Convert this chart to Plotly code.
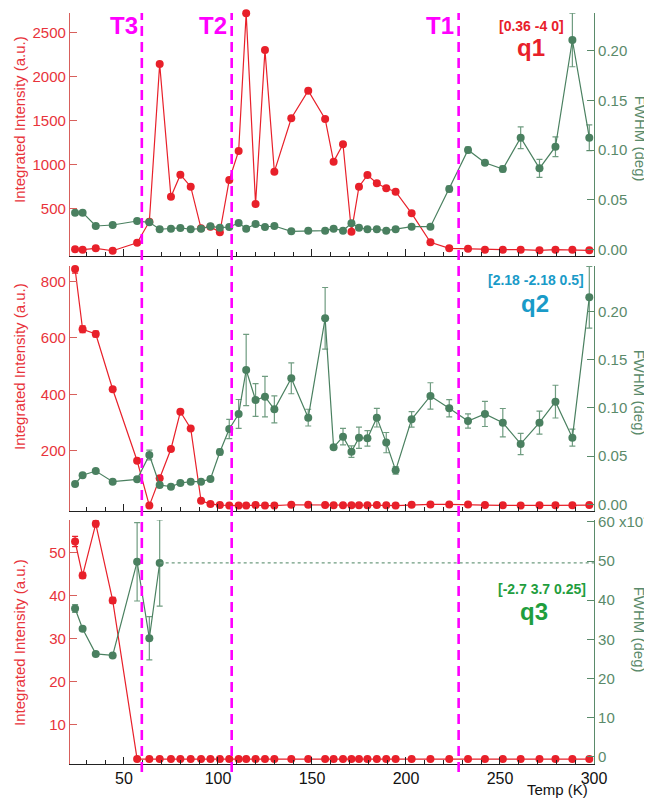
import plotly.graph_objects as go

# ---------------- data ----------------
temps = [24, 28, 35, 44, 57, 63.5, 69, 75, 80, 85.5, 91, 96, 101, 106, 111, 115, 120, 125, 130,
         139, 148, 157, 161.5, 166.5, 171, 175, 179.5, 184.5, 189.5, 194.5, 203, 213, 223, 233,
         242, 251.5, 261, 271, 279.5, 288.5, 297.5]

q1_int = [34, 30, 45, 18, 109, 348, 2140, 632, 882, 745, 273, 291, 227, 822, 1151, 2716, 549, 2299,
          916, 1523, 1836, 1515, 1030, 1227, 234, 746, 878, 784, 727, 689, 443, 114, 45, 40, 30, 30,
          30, 22, 30, 30, 22]
q1_fwhm = [0.0369, 0.0369, 0.0235, 0.0245, 0.0285, 0.0272, 0.0202, 0.0208, 0.0215, 0.0202, 0.0208,
           0.0232, 0.0218, 0.0225, 0.0265, 0.0208, 0.0255, 0.0225, 0.0235, 0.0181, 0.0188, 0.0188,
           0.0208, 0.0188, 0.0262, 0.0218, 0.0202, 0.0202, 0.0188, 0.0202, 0.0228, 0.0228, 0.0608,
           0.1001, 0.0873, 0.0809, 0.1125, 0.0816, 0.1034, 0.2110, 0.1125]
q1_fwhm_err = [0.001] * 32 + [0.003, 0.003, 0.002, 0.003, 0.011, 0.009, 0.010, 0.027, 0.013]

q2_int = [845, 631, 614, 418, 164, 5, 102, 206, 338, 279, 22, 11, 7, 5, 5, 5, 7, 5, 5, 8, 8, 7,
          6, 6, 6, 6, 6, 7, 6, 5, 8, 9, 9, 9, 7, 6, 5, 6, 6, 6, 7]
q2_int_err = [15, 12, 10, 3] + [1] * 37
q2_fwhm = [0.0211, 0.0301, 0.0345, 0.0235, 0.0259, 0.0511, 0.0200, 0.0183, 0.0221, 0.0235, 0.0235,
           0.0262, 0.0543, 0.0781, 0.0937, 0.1393, 0.1082, 0.1116, 0.0985, 0.1307, 0.0899, 0.1929,
           0.0591, 0.0702, 0.0546, 0.0691, 0.0684, 0.0899, 0.0640, 0.0352, 0.0881, 0.1124, 0.0996,
           0.0864, 0.0937, 0.0847, 0.0626, 0.0847, 0.1065, 0.0691, 0.2147]
q2_fwhm_err = [0.001, 0.001, 0.001, 0.001, 0.001, 0.005, 0.001, 0.001, 0.001, 0.001, 0.001, 0.001,
               0.003, 0.010, 0.015, 0.037, 0.017, 0.021, 0.014, 0.016, 0.0087, 0.032, 0.002, 0.0086,
               0.006, 0.011, 0.008, 0.0097, 0.0105, 0.004, 0.008, 0.0137, 0.009, 0.0073, 0.013,
               0.0147, 0.011, 0.012, 0.017, 0.0088, 0.032]

q3_int = [52.6, 44.7, 56.7, 38.9] + [2.0] * 37
q3_int_err = [1.2, 0.7, 0.7, 0.7] + [0.2] * 37
q3_temps_fwhm = [24, 28, 35, 44, 57, 63.5, 69]
q3_fwhm = [37.9, 32.7, 26.3, 25.9, 49.8, 30.3, 49.5]          # x10^-3 deg
q3_fwhm_err = [1.0, 0.5, 0.3, 0.3, 10.0, 5.5, 11.0]

transitions = [59.5, 107.3, 228.0]
transition_labels = ["T3", "T2", "T1"]

# ---------------- styles ----------------
RED = "#e8202a"
RED_AX = "#d8605c"
RED_TXT = "#e8333b"
GREEN = "#4a8060"
GREEN_ERR = "#6f9c80"
GREEN_AX = "#5a8a6a"
MAGENTA = "#ff00ff"
FONT = "Liberation Sans, Arial, sans-serif"

# page body has an 8px margin, so the figure is drawn offset by 8px
OFF = 8
W, H = 652 - OFF, 800 - OFF
L_SCR, R_SCR, T_SCR, B_SCR = 70, 593.7, 13, 764     # plot area in screen pixels
ML, MR, MT, MB = L_SCR - OFF, W - (R_SCR - OFF), T_SCR - OFF, H - (B_SCR - OFF)
PH = B_SCR - T_SCR
PW = R_SCR - L_SCR
XR = [21.3, 300]


def py2paper(py):
    return (B_SCR - py) / PH


def px2paper(px):
    return (px - L_SCR) / PW


def px2data(px):
    return XR[0] + (px - L_SCR) / PW * (XR[1] - XR[0])


fig = go.Figure()

panels = [
    dict(x="x", yl="y", yr="y2", ints=q1_int, ierr=None, fx=temps, fw=q1_fwhm, ferr=q1_fwhm_err),
    dict(x="x2", yl="y3", yr="y4", ints=q2_int, ierr=q2_int_err, fx=temps, fw=q2_fwhm, ferr=q2_fwhm_err),
    dict(x="x3", yl="y5", yr="y6", ints=q3_int, ierr=q3_int_err, fx=q3_temps_fwhm, fw=q3_fwhm, ferr=q3_fwhm_err),
]

for p in panels:
    fig.add_trace(go.Scatter(
        x=p["fx"], y=p["fw"], xaxis=p["x"], yaxis=p["yr"], mode="lines+markers",
        line=dict(color=GREEN, width=1.2), marker=dict(color=GREEN, size=8),
        error_y=dict(type="data", array=p["ferr"], color=GREEN_ERR, thickness=1.2, width=3),
        cliponaxis=False, showlegend=False))
    ey = dict(type="data", array=p["ierr"], color=RED, thickness=1.2, width=3) if p["ierr"] else None
    fig.add_trace(go.Scatter(
        x=temps, y=p["ints"], xaxis=p["x"], yaxis=p["yl"], mode="lines+markers",
        line=dict(color=RED, width=1.2), marker=dict(color=RED, size=8),
        error_y=ey, cliponaxis=False, showlegend=False))

# dotted continuation of last q3 FWHM value
fig.add_trace(go.Scatter(
    x=[q3_temps_fwhm[-1], XR[1]], y=[q3_fwhm[-1], q3_fwhm[-1]], xaxis="x3", yaxis="y6",
    mode="lines", line=dict(color=GREEN_ERR, width=1.2, dash="dot"), showlegend=False, hoverinfo="skip"))

doms = [
    [py2paper(256), py2paper(13)],
    [py2paper(511), py2paper(266)],
    [py2paper(764), py2paper(520)],
]

xcommon = dict(range=XR, showline=True, linecolor="#222", linewidth=1.2, ticks="inside",
               tick0=0, dtick=50, ticklen=7, tickcolor="#222", showgrid=False, zeroline=False,
               automargin=False,
               minor=dict(dtick=10, ticks="inside", ticklen=4, tickcolor="#222"),
               tickfont=dict(family=FONT, size=16, color="#111"))

lcommon = dict(showline=True, linecolor=RED_AX, linewidth=1.2, ticks="inside", ticklen=7,
               tickcolor=RED_AX, showgrid=False, zeroline=False, automargin=False,
               tickfont=dict(family=FONT, size=15, color=RED_TXT))
rcommon = dict(showline=True, linecolor=GREEN_AX, linewidth=1.2, ticks="inside", ticklen=7,
               tickcolor=GREEN_AX, showgrid=False, zeroline=False, side="right", automargin=False,
               tickfont=dict(family=FONT, size=15, color=GREEN_AX))

layout = dict(
    width=W, height=H, margin=dict(l=ML, r=MR, t=MT, b=MB, autoexpand=False),
    paper_bgcolor="white", plot_bgcolor="white", showlegend=False,
    xaxis=dict(xcommon, domain=[0, 1], anchor="y", showticklabels=False),
    xaxis2=dict(xcommon, domain=[0, 1], anchor="y3", showticklabels=False),
    xaxis3=dict(xcommon, domain=[0, 1], anchor="y5", showticklabels=True),
    yaxis=dict(lcommon, domain=doms[0], anchor="x", range=[-42, 2719],
               tickvals=[500, 1000, 1500, 2000, 2500]),
    yaxis2=dict(rcommon, domain=doms[0], anchor="x", overlaying="y", range=[-0.00675, 0.2382],
                tickvals=[0, 0.05, 0.10, 0.15, 0.20], tickformat=".2f"),
    yaxis3=dict(lcommon, domain=doms[1], anchor="x2", range=[-14.2, 855.5],
                tickvals=[200, 400, 600, 800]),
    yaxis4=dict(rcommon, domain=doms[1], anchor="x2", overlaying="y3", range=[-0.00695, 0.2472],
                tickvals=[0, 0.05, 0.10, 0.15, 0.20], tickformat=".2f"),
    yaxis5=dict(lcommon, domain=doms[2], anchor="x3", range=[0.86, 57.6],
                tickvals=[10, 20, 30, 40, 50]),
    yaxis6=dict(rcommon, domain=doms[2], anchor="x3", overlaying="y5", range=[-1.79, 60.46],
                tickvals=[0, 10, 20, 30, 40, 50, 60],
                ticktext=["0", "10", "20", "30", "40", "50", "60 x10⁻³"]),
)
fig.update_layout(**layout)

shapes = []
for t in transitions:
    shapes.append(dict(type="line", xref="x", yref="paper", x0=t, x1=t,
                       y0=py2paper(772), y1=py2paper(13),
                       line=dict(color=MAGENTA, width=2.6, dash="10px,6px"), layer="above"))
fig.update_layout(shapes=shapes)

ann = []
for t, lab in zip(transitions, transition_labels):
    ann.append(dict(x=t - 1.2, y=py2paper(25), xref="x", yref="paper", text=f"<b>{lab}</b>",
                    showarrow=False, xanchor="right", yanchor="middle",
                    font=dict(family=FONT, size=24, color=MAGENTA)))

labels = [
    ("[0.36 -4 0]", "q1", RED, 531, 26, 531, 47),
    ("[2.18 -2.18 0.5]", "q2", "#1a9bc8", 536, 280, 535, 303),
    ("[-2.7 3.7 0.25]", "q3", "#1f9e3e", 542, 589, 534, 611),
]
for vec, q, col, bx, by, qx, qy in labels:
    ann.append(dict(x=px2data(bx), y=py2paper(by), xref="x", yref="paper", text=f"<b>{vec}</b>",
                    showarrow=False, xanchor="center", yanchor="middle",
                    font=dict(family=FONT, size=14, color=col)))
    ann.append(dict(x=px2data(qx), y=py2paper(qy), xref="x", yref="paper", text=f"<b>{q}</b>",
                    showarrow=False, xanchor="center", yanchor="middle",
                    font=dict(family=FONT, size=24, color=col)))

for cy in [119, 366, 642]:
    ann.append(dict(x=px2paper(19), y=py2paper(cy), xref="paper", yref="paper",
                    text="Integrated Intensity (a.u.)", textangle=-90, showarrow=False,
                    xanchor="center", yanchor="middle",
                    font=dict(family=FONT, size=15, color=RED_TXT)))
for cy in [139, 393, 630]:
    ann.append(dict(x=px2paper(640), y=py2paper(cy), xref="paper", yref="paper",
                    text="FWHM (deg)", textangle=90, showarrow=False,
                    xanchor="center", yanchor="middle",
                    font=dict(family=FONT, size=15, color=GREEN_AX)))

ann.append(dict(x=px2paper(590), y=py2paper(789), xref="paper", yref="paper", text="Temp (K)",
                showarrow=False, xanchor="right", yanchor="middle",
                font=dict(family=FONT, size=15, color="#111")))
fig.update_layout(annotations=ann)

fig.write_html("out.html")
